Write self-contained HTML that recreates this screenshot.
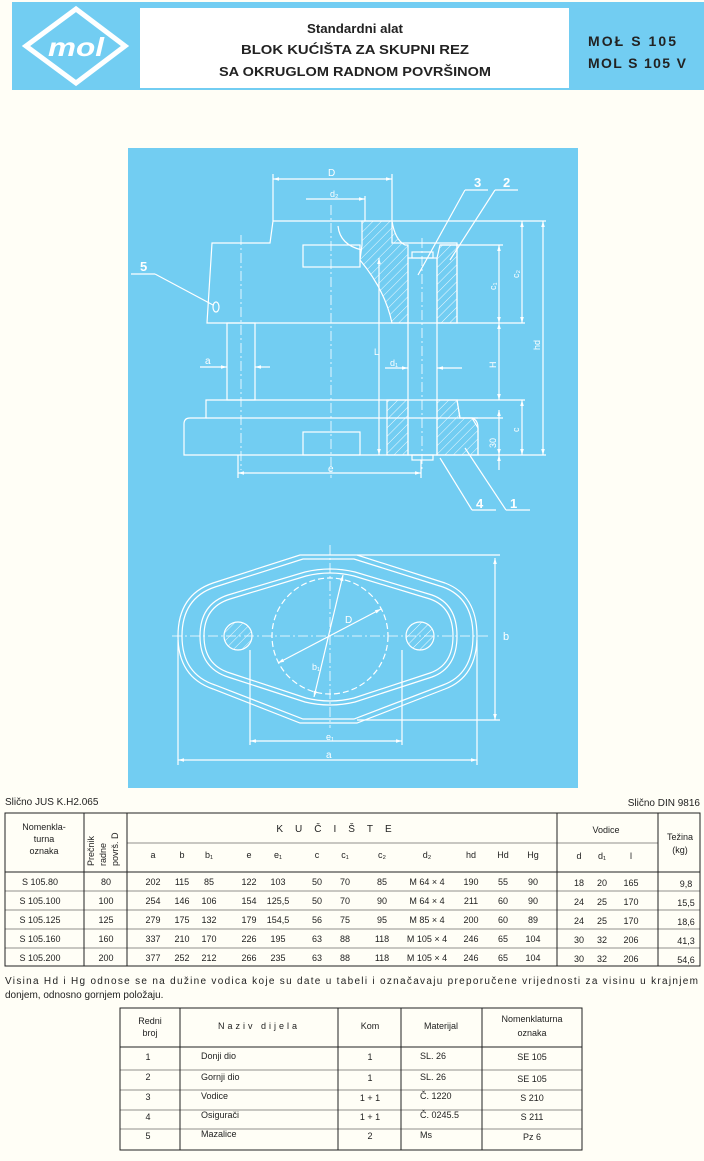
<!DOCTYPE html>
<html><head><meta charset="utf-8"><style>
html,body{margin:0;padding:0;background:#fffef6;}
svg{display:block}
text{font-family:"Liberation Sans",sans-serif;fill:#222}
.w{fill:#fff}
</style></head><body>
<svg width="704" height="1161" viewBox="0 0 704 1161" xmlns="http://www.w3.org/2000/svg">
<defs>
<pattern id="h" width="6" height="6" patternUnits="userSpaceOnUse" patternTransform="rotate(45)">
<line x1="0" y1="0" x2="0" y2="6" stroke="#fff" stroke-width="0.9"/>
</pattern>
<marker id="ar" viewBox="0 0 10 10" refX="10" refY="5" markerWidth="7" markerHeight="5" orient="auto-start-reverse">
<path d="M0 2 L10 5 L0 8 Z" fill="#fff"/>
</marker>
</defs>
<rect width="704" height="1161" fill="#fffef6"/>
<!-- header -->
<rect x="12" y="2" width="692" height="88" fill="#72cdf2"/>
<rect x="140" y="8" width="429" height="80" fill="#ffffff"/>
<polygon points="76,9 125,46 76,83 26,46" fill="none" stroke="#fff" stroke-width="5"/>
<text x="76" y="56" text-anchor="middle" font-size="26" font-style="italic" font-weight="bold" class="w" textLength="56" lengthAdjust="spacingAndGlyphs">mol</text>
<text x="355" y="33" text-anchor="middle" font-size="13" font-weight="bold" textLength="96" lengthAdjust="spacingAndGlyphs">Standardni alat</text>
<text x="355" y="54" text-anchor="middle" font-size="13" font-weight="bold" textLength="228" lengthAdjust="spacingAndGlyphs">BLOK KUĆIŠTA ZA SKUPNI REZ</text>
<text x="355" y="76" text-anchor="middle" font-size="13" font-weight="bold" textLength="272" lengthAdjust="spacingAndGlyphs">SA OKRUGLOM RADNOM POVRŠINOM</text>
<text x="588" y="46" font-size="14" font-weight="bold" textLength="88" lengthAdjust="spacing">MOŁ S 105</text>
<text x="588" y="68" font-size="14" font-weight="bold" textLength="98" lengthAdjust="spacing">MOL S 105 V</text>
<!-- drawing panel -->
<rect x="128" y="148" width="450" height="640" fill="#72cdf2"/>
<g fill="none" stroke="#fff" stroke-width="1.2">
<!-- hatched areas -->
<path d="M362 221 L392 221 Q395 240 405 245 L408 245 L408 323 L392 323 Q385 290 360 260 L362 245 Z" fill="url(#h)"/>
<path d="M440 245 L457 245 L457 323 L437 323 L437 258 Z" fill="url(#h)"/>
<path d="M387 400 L408 400 L408 455 L387 455 Z" fill="url(#h)"/>
<path d="M437 400 L457 400 L460 418 L472 418 L478 428 L478 455 L437 455 Z" fill="url(#h)"/>
<!-- upper part -->
<path d="M273 221 L392 221 L392 243 L457 243 L457 323 L207 323 L212 243 L270 243 Z"/>
<rect x="303" y="245" width="57" height="22"/>
<path d="M338 226 Q340 245 362 250"/>
<rect x="227" y="323" width="28" height="77"/>
<rect x="408" y="258" width="29" height="197"/>
<rect x="412" y="252" width="21" height="6"/>
<rect x="412" y="455" width="21" height="5"/>
<!-- lower part -->
<path d="M206 400 L457 400 L460 418 L472 418 Q478 420 478 428 L478 455 L184 455 L184 424 Q184 418 190 418 L206 418 Z"/>
<line x1="206" y1="418" x2="478" y2="418"/>
<rect x="303" y="432" width="57" height="23"/>
<!-- dimension lines -->
<line x1="273" y1="179" x2="392" y2="179" marker-start="url(#ar)" marker-end="url(#ar)"/>
<line x1="306" y1="199" x2="365" y2="199" marker-end="url(#ar)"/>
<line x1="273" y1="174" x2="273" y2="221"/><line x1="392" y1="174" x2="392" y2="221"/>
<line x1="365" y1="196" x2="365" y2="221"/>
<line x1="499" y1="245" x2="499" y2="323" marker-start="url(#ar)" marker-end="url(#ar)"/>
<line x1="499" y1="323" x2="499" y2="400" marker-start="url(#ar)" marker-end="url(#ar)"/>
<line x1="499" y1="410" x2="499" y2="455" marker-start="url(#ar)" marker-end="url(#ar)"/>
<line x1="499" y1="455" x2="499" y2="470" marker-start="url(#ar)"/>
<line x1="522" y1="221" x2="522" y2="323" marker-start="url(#ar)" marker-end="url(#ar)"/>
<line x1="522" y1="400" x2="522" y2="455" marker-start="url(#ar)" marker-end="url(#ar)"/>
<line x1="543" y1="221" x2="543" y2="455" marker-start="url(#ar)" marker-end="url(#ar)"/>
<line x1="392" y1="221" x2="546" y2="221"/><line x1="440" y1="245" x2="503" y2="245"/>
<line x1="457" y1="323" x2="525" y2="323"/><line x1="457" y1="400" x2="525" y2="400"/>
<line x1="472" y1="418" x2="503" y2="418"/><line x1="478" y1="455" x2="546" y2="455"/>
<line x1="379" y1="258" x2="379" y2="455" marker-start="url(#ar)" marker-end="url(#ar)"/>
<line x1="238" y1="473" x2="421" y2="473" marker-start="url(#ar)" marker-end="url(#ar)"/>
<line x1="238" y1="455" x2="238" y2="478"/><line x1="421" y1="460" x2="421" y2="478"/>
<line x1="200" y1="367" x2="227" y2="367" marker-end="url(#ar)"/><line x1="255" y1="367" x2="270" y2="367" marker-start="url(#ar)"/>
<line x1="385" y1="368" x2="408" y2="368" marker-end="url(#ar)"/><line x1="437" y1="368" x2="462" y2="368" marker-start="url(#ar)"/>
<line x1="131" y1="274" x2="155" y2="274"/><line x1="155" y1="274" x2="213" y2="305"/>
<ellipse cx="216" cy="307" rx="3" ry="5"/>
<line x1="465" y1="190" x2="488" y2="190"/><line x1="465" y1="190" x2="418" y2="275"/>
<line x1="495" y1="190" x2="518" y2="190"/><line x1="495" y1="190" x2="450" y2="260"/>
<line x1="440" y1="458" x2="472" y2="510"/><line x1="472" y1="510" x2="496" y2="510"/>
<line x1="465" y1="448" x2="506" y2="510"/><line x1="506" y1="510" x2="530" y2="510"/>
<!-- plan view -->
<path d="M300 555 L357 555 L445 583 Q477 595 477 636 Q477 677 445 689 L357 723 L300 723 L213 689 Q178 677 178 636 Q178 595 213 583 Z"/>
<path d="M303 559 L354 559 L443 587 Q473 598 473 636 Q473 674 443 685 L354 719 L303 719 L215 685 Q182 674 182 636 Q182 598 215 587 Z"/>
<path d="M305 572 Q330 566 355 572 L432 595 Q457 604 457 636 Q457 668 432 677 L355 702 Q330 708 305 702 L228 677 Q200 668 200 636 Q200 604 228 595 Z"/>
<path d="M306 576 Q330 570 354 576 L430 599 Q453 607 453 636 Q453 665 430 673 L354 698 Q330 704 306 698 L230 673 Q204 665 204 636 Q204 607 230 599 Z"/>
<circle cx="330" cy="636" r="58" stroke-dasharray="6,3"/>
<circle cx="238" cy="636" r="14" fill="url(#h)"/>
<circle cx="420" cy="636" r="14" fill="url(#h)"/>
<line x1="357" y1="555" x2="500" y2="555"/><line x1="357" y1="720" x2="500" y2="720"/>
<line x1="495" y1="558" x2="495" y2="720" marker-start="url(#ar)" marker-end="url(#ar)"/>
<line x1="250" y1="741" x2="402" y2="741" marker-start="url(#ar)" marker-end="url(#ar)"/>
<line x1="250" y1="650" x2="250" y2="745"/><line x1="402" y1="650" x2="402" y2="745"/>
<line x1="178" y1="760" x2="477" y2="760" marker-start="url(#ar)" marker-end="url(#ar)"/>
<line x1="178" y1="640" x2="178" y2="765"/><line x1="477" y1="640" x2="477" y2="765"/>
<line x1="278" y1="663" x2="381" y2="609" marker-start="url(#ar)" marker-end="url(#ar)"/>
<line x1="314" y1="697" x2="343" y2="575" marker-start="url(#ar)" marker-end="url(#ar)"/>
</g>
<g stroke="#fff" stroke-width="0.8" stroke-dasharray="10,3,2,3">
<line x1="331" y1="205" x2="331" y2="478"/>
<line x1="241" y1="235" x2="241" y2="470"/>
<line x1="422" y1="238" x2="422" y2="470"/>
<line x1="330" y1="545" x2="330" y2="728"/>
<line x1="172" y1="636" x2="490" y2="636"/>
</g>
<g font-size="12" class="w">
<text x="140" y="271" font-weight="bold" font-size="13" class="w">5</text>
<text x="474" y="187" font-weight="bold" font-size="13" class="w">3</text>
<text x="503" y="187" font-weight="bold" font-size="13" class="w">2</text>
<text x="476" y="508" font-weight="bold" font-size="13" class="w">4</text>
<text x="510" y="508" font-weight="bold" font-size="13" class="w">1</text>
<text x="328" y="176" font-size="10" class="w">D</text>
<text x="330" y="197" font-size="9" class="w">d₂</text>
<text x="328" y="472" font-size="10" class="w">e</text>
<text x="205" y="364" font-size="10" class="w">a</text>
<text x="390" y="366" font-size="9" class="w">d₁</text>
<text x="374" y="355" font-size="9" class="w">L</text>
<text transform="translate(496,290) rotate(-90)" font-size="9" class="w">c₁</text>
<text transform="translate(519,278) rotate(-90)" font-size="9" class="w">c₂</text>
<text transform="translate(540,350) rotate(-90)" font-size="9" class="w">hd</text>
<text transform="translate(496,368) rotate(-90)" font-size="9" class="w">H</text>
<text transform="translate(519,432) rotate(-90)" font-size="9" class="w">c</text>
<text transform="translate(496,448) rotate(-90)" font-size="9" class="w">30</text>
<text x="503" y="640" font-size="11" class="w">b</text>
<text x="326" y="740" font-size="9" class="w">e₁</text>
<text x="326" y="758" font-size="10" class="w">a</text>
<text x="345" y="623" font-size="10" class="w">D</text>
<text x="312" y="670" font-size="9" class="w">b₁</text>
</g>
<!-- main table -->
<text x="5" y="805" font-size="10">Slično JUS K.H2.065</text>
<text x="700" y="806" font-size="10" text-anchor="end">Slično DIN 9816</text>
<g fill="none" stroke="#222" stroke-width="1">
<rect x="5" y="813" width="695" height="153"/>
<line x1="84" y1="813" x2="84" y2="966"/><line x1="127" y1="813" x2="127" y2="966"/>
<line x1="557" y1="813" x2="557" y2="966"/><line x1="658" y1="813" x2="658" y2="966"/>
<line x1="127" y1="843" x2="557" y2="843" stroke-width="0.5"/><line x1="557" y1="843" x2="658" y2="843" stroke-width="0.5"/>
<line x1="5" y1="872" x2="700" y2="872"/>
<line x1="5" y1="891" x2="700" y2="891" stroke-width="0.5"/><line x1="5" y1="910" x2="700" y2="910" stroke-width="0.5"/>
<line x1="5" y1="929" x2="700" y2="929" stroke-width="0.5"/><line x1="5" y1="948" x2="700" y2="948" stroke-width="0.5"/>
</g>
<g font-size="9" text-anchor="middle">
<text x="44" y="830">Nomenkla-</text><text x="44" y="842">turna</text><text x="44" y="854">oznaka</text>
<text transform="translate(94,866) rotate(-90)" text-anchor="start">Prečnik</text>
<text transform="translate(106,866) rotate(-90)" text-anchor="start">radne</text>
<text transform="translate(118,866) rotate(-90)" text-anchor="start">površ. D</text>
<text x="340" y="832" font-size="10" letter-spacing="12">KUČIŠTE</text>
<text x="606" y="833">Vodice</text>
<text x="680" y="840">Težina</text><text x="680" y="853">(kg)</text>
<text x="153" y="858">a</text><text x="182" y="858">b</text><text x="209" y="858">b₁</text><text x="249" y="858">e</text><text x="278" y="858">e₁</text>
<text x="317" y="858">c</text><text x="345" y="858">c₁</text><text x="382" y="858">c₂</text><text x="427" y="858">d₂</text>
<text x="471" y="858">hd</text><text x="503" y="858">Hd</text><text x="533" y="858">Hg</text>
<text x="579" y="859">d</text><text x="602" y="859">d₁</text><text x="631" y="859">l</text>
</g>
<g font-size="9" text-anchor="middle">
<text x="40" y="885">S 105.80</text><text x="106" y="885">80</text><text x="153" y="885">202</text><text x="182" y="885">115</text><text x="209" y="885">85</text><text x="249" y="885">122</text><text x="278" y="885">103</text><text x="317" y="885">50</text><text x="345" y="885">70</text><text x="382" y="885">85</text><text x="427" y="885">M  64 × 4</text><text x="471" y="885">190</text><text x="503" y="885">55</text><text x="533" y="885">90</text><text x="579" y="886">18</text><text x="602" y="886">20</text><text x="631" y="886">165</text><text x="686" y="887">9,8</text>
<text x="40" y="904">S 105.100</text><text x="106" y="904">100</text><text x="153" y="904">254</text><text x="182" y="904">146</text><text x="209" y="904">106</text><text x="249" y="904">154</text><text x="278" y="904">125,5</text><text x="317" y="904">50</text><text x="345" y="904">70</text><text x="382" y="904">90</text><text x="427" y="904">M  64 × 4</text><text x="471" y="904">211</text><text x="503" y="904">60</text><text x="533" y="904">90</text><text x="579" y="905">24</text><text x="602" y="905">25</text><text x="631" y="905">170</text><text x="686" y="906">15,5</text>
<text x="40" y="923">S 105.125</text><text x="106" y="923">125</text><text x="153" y="923">279</text><text x="182" y="923">175</text><text x="209" y="923">132</text><text x="249" y="923">179</text><text x="278" y="923">154,5</text><text x="317" y="923">56</text><text x="345" y="923">75</text><text x="382" y="923">95</text><text x="427" y="923">M  85 × 4</text><text x="471" y="923">200</text><text x="503" y="923">60</text><text x="533" y="923">89</text><text x="579" y="924">24</text><text x="602" y="924">25</text><text x="631" y="924">170</text><text x="686" y="925">18,6</text>
<text x="40" y="942">S 105.160</text><text x="106" y="942">160</text><text x="153" y="942">337</text><text x="182" y="942">210</text><text x="209" y="942">170</text><text x="249" y="942">226</text><text x="278" y="942">195</text><text x="317" y="942">63</text><text x="345" y="942">88</text><text x="382" y="942">118</text><text x="427" y="942">M 105 × 4</text><text x="471" y="942">246</text><text x="503" y="942">65</text><text x="533" y="942">104</text><text x="579" y="943">30</text><text x="602" y="943">32</text><text x="631" y="943">206</text><text x="686" y="944">41,3</text>
<text x="40" y="961">S 105.200</text><text x="106" y="961">200</text><text x="153" y="961">377</text><text x="182" y="961">252</text><text x="209" y="961">212</text><text x="249" y="961">266</text><text x="278" y="961">235</text><text x="317" y="961">63</text><text x="345" y="961">88</text><text x="382" y="961">118</text><text x="427" y="961">M 105 × 4</text><text x="471" y="961">246</text><text x="503" y="961">65</text><text x="533" y="961">104</text><text x="579" y="962">30</text><text x="602" y="962">32</text><text x="631" y="962">206</text><text x="686" y="963">54,6</text>
</g>
<text x="5" y="984" font-size="10" textLength="693" lengthAdjust="spacing">Visina Hd i Hg odnose se na dužine vodica koje su date u tabeli i označavaju preporučene vrijednosti za visinu u krajnjem</text>
<text x="5" y="998" font-size="10">donjem, odnosno gornjem položaju.</text>
<!-- parts table -->
<g fill="none" stroke="#222" stroke-width="1">
<rect x="120" y="1008" width="462" height="142"/>
<line x1="180" y1="1008" x2="180" y2="1150"/><line x1="338" y1="1008" x2="338" y2="1150"/>
<line x1="401" y1="1008" x2="401" y2="1150"/><line x1="482" y1="1008" x2="482" y2="1150"/>
<line x1="120" y1="1047" x2="582" y2="1047"/>
<line x1="120" y1="1070" x2="582" y2="1070" stroke-width="0.5"/><line x1="120" y1="1090" x2="582" y2="1090" stroke-width="0.5"/>
<line x1="120" y1="1110" x2="582" y2="1110" stroke-width="0.5"/><line x1="120" y1="1129" x2="582" y2="1129" stroke-width="0.5"/>
</g>
<g font-size="9">
<g text-anchor="middle">
<text x="150" y="1024">Redni</text><text x="150" y="1036">broj</text>
<text x="259" y="1029" letter-spacing="3">Naziv dijela</text>
<text x="370" y="1029">Kom</text><text x="441" y="1029">Materijal</text>
<text x="532" y="1022">Nomenklaturna</text><text x="532" y="1036">oznaka</text>
<text x="148" y="1060">1</text><text x="148" y="1080">2</text><text x="148" y="1100">3</text><text x="148" y="1120">4</text><text x="148" y="1139">5</text>
<text x="370" y="1060">1</text><text x="370" y="1081">1</text><text x="370" y="1101">1 + 1</text><text x="370" y="1120">1 + 1</text><text x="370" y="1139">2</text>
<text x="532" y="1060">SE 105</text><text x="532" y="1082">SE 105</text><text x="532" y="1101">S  210</text><text x="532" y="1120">S  211</text><text x="532" y="1140">Pz 6</text>
</g>
<text x="201" y="1059">Donji dio</text><text x="201" y="1080">Gornji dio</text><text x="201" y="1099">Vodice</text><text x="201" y="1118">Osigurači</text><text x="201" y="1137">Mazalice</text>
<text x="420" y="1059">SL. 26</text><text x="420" y="1080">SL. 26</text><text x="420" y="1099">Č. 1220</text><text x="420" y="1118">Č. 0245.5</text><text x="420" y="1138">Ms</text>
</g>
</svg>
</body></html>
